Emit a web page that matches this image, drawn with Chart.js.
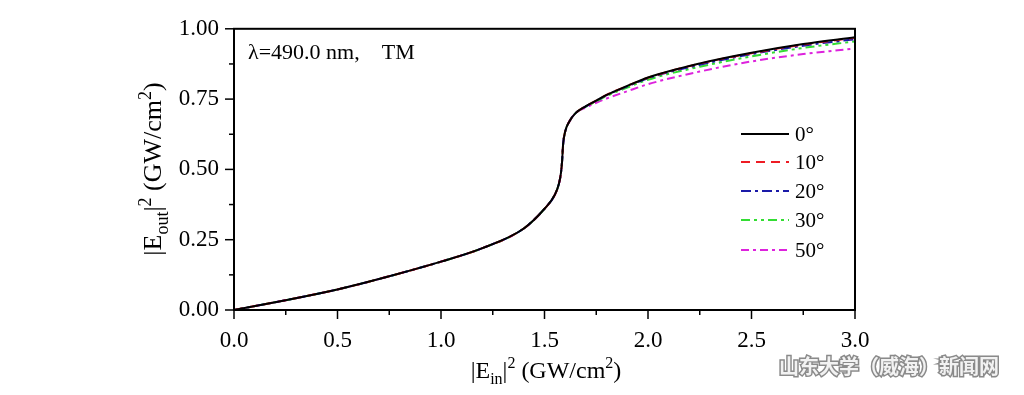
<!DOCTYPE html>
<html>
<head>
<meta charset="utf-8">
<script src="https://cdn.jsdelivr.net/npm/chart.js@4/dist/chart.umd.min.js"></script>
<style>
  html, body { margin: 0; padding: 0; background: #fff; }
  #wrap { width: 1024px; height: 395px; position: relative; }
</style>
</head>
<body>
<div id="wrap"><canvas id="chart"></canvas></div>
<script>
// input intensity |E_in|^2 (GW/cm^2)
const xs = [0, 0.25, 0.5, 0.75, 1.0, 1.2, 1.4, 1.5, 1.55, 1.57, 1.58, 1.585, 1.59, 1.6, 1.62, 1.65, 1.7, 1.75, 1.8, 1.9, 2.0, 2.25, 2.5, 2.75, 3.0];
// output intensity |E_out|^2 for each incidence angle
const y0  = [0, 0.035, 0.073, 0.12, 0.172, 0.22, 0.29, 0.36, 0.41, 0.45, 0.49, 0.53, 0.59, 0.635, 0.67, 0.70, 0.725, 0.745, 0.765, 0.797, 0.827, 0.877, 0.915, 0.946, 0.970];
const y10 = [0, 0.035, 0.073, 0.12, 0.172, 0.22, 0.29, 0.36, 0.41, 0.45, 0.49, 0.53, 0.59, 0.635, 0.67, 0.70, 0.725, 0.745, 0.765, 0.797, 0.826, 0.876, 0.913, 0.944, 0.968];
const y20 = [0, 0.035, 0.073, 0.12, 0.172, 0.22, 0.29, 0.36, 0.41, 0.45, 0.49, 0.53, 0.59, 0.635, 0.67, 0.70, 0.724, 0.744, 0.764, 0.795, 0.824, 0.872, 0.910, 0.940, 0.963];
const y30 = [0, 0.035, 0.073, 0.12, 0.172, 0.22, 0.29, 0.36, 0.41, 0.45, 0.49, 0.53, 0.59, 0.635, 0.67, 0.70, 0.723, 0.742, 0.761, 0.791, 0.819, 0.865, 0.902, 0.932, 0.955];
const y50 = [0, 0.035, 0.073, 0.12, 0.172, 0.22, 0.29, 0.36, 0.41, 0.45, 0.49, 0.53, 0.59, 0.635, 0.67, 0.70, 0.720, 0.737, 0.752, 0.778, 0.803, 0.848, 0.884, 0.910, 0.930];
const angleLabels = ['0°', '10°', '20°', '30°', '50°'];
const xTicks = [0, 0.5, 1.0, 1.5, 2.0, 2.5, 3.0];
const yTicks = [0, 0.25, 0.5, 0.75, 1.0];

const serif = '"Liberation Serif", "DejaVu Serif", serif';
const styles = [
  { color: '#000000', dash: [] },
  { color: '#ee1c24', dash: [9, 6] },
  { color: '#1a1aa8', dash: [10, 4, 3, 4] },
  { color: '#33dd33', dash: [9, 4, 3, 4, 3, 4] },
  { color: '#dd22dd', dash: [8, 4, 3, 4] }
];

function toPoints(ys) {
  return xs.map((x, i) => ({ x, y: ys[i] }));
}

const series = [y0, y10, y20, y30, y50];
const datasets = series.map((ys, i) => ({
  label: angleLabels[i],
  data: toPoints(ys),
  borderColor: styles[i].color,
  borderDash: styles[i].dash,
  borderWidth: 2,
  pointRadius: 0,
  cubicInterpolationMode: 'monotone',
  fill: false
}));

// draws a string with sub / superscript pieces
function richText(ctx, parts, x, y, size, align) {
  const big = size + 'px ' + serif;
  const small = Math.round(size * 0.68) + 'px ' + serif;
  let w = 0;
  parts.forEach(p => {
    ctx.font = (p.sub || p.sup) ? small : big;
    w += ctx.measureText(p.t).width;
  });
  let cx = align === 'center' ? x - w / 2 : x;
  ctx.textAlign = 'left';
  ctx.textBaseline = 'alphabetic';
  parts.forEach(p => {
    ctx.font = (p.sub || p.sup) ? small : big;
    let dy = 0;
    if (p.sub) dy = size * 0.25;
    if (p.sup) dy = -size * 0.4;
    ctx.fillText(p.t, cx, y + dy);
    cx += ctx.measureText(p.t).width;
  });
}

const decorPlugin = {
  id: 'decor',
  afterDraw(chart) {
    const ctx = chart.ctx;
    const a = chart.chartArea;
    const sx = chart.scales.x, sy = chart.scales.y;
    ctx.save();
    ctx.strokeStyle = '#000';
    ctx.fillStyle = '#000';
    // frame
    ctx.lineWidth = 2;
    ctx.strokeRect(a.left, a.top, a.right - a.left, a.bottom - a.top);
    // ticks (outward), major + minor
    ctx.lineWidth = 1.5;
    for (let v = 0; v <= 3.0001; v += 0.25) {
      const px = sx.getPixelForValue(v);
      const major = Math.abs(v * 2 - Math.round(v * 2)) < 1e-6;
      ctx.beginPath();
      ctx.moveTo(px, a.bottom);
      ctx.lineTo(px, a.bottom + (major ? 9 : 5));
      ctx.stroke();
    }
    for (let v = 0; v <= 1.0001; v += 0.125) {
      const py = sy.getPixelForValue(v);
      const major = Math.abs(v * 4 - Math.round(v * 4)) < 1e-6;
      ctx.beginPath();
      ctx.moveTo(a.left, py);
      ctx.lineTo(a.left - (major ? 9 : 5), py);
      ctx.stroke();
    }
    // axis titles
    richText(ctx, [{ t: '|E' }, { t: 'in', sub: true }, { t: '|' }, { t: '2', sup: true },
      { t: ' (GW/cm' }, { t: '2', sup: true }, { t: ')' }], 546, 378, 24, 'center');
    ctx.save();
    ctx.translate(161, 169);
    ctx.rotate(-Math.PI / 2);
    richText(ctx, [{ t: '|E' }, { t: 'out', sub: true }, { t: '|' }, { t: '2', sup: true },
      { t: ' (GW/cm' }, { t: '2', sup: true }, { t: ')' }], 0, 0, 26, 'center');
    ctx.restore();
    // annotation
    ctx.font = '22px ' + serif;
    ctx.textAlign = 'left';
    ctx.textBaseline = 'middle';
    ctx.fillText('λ=490.0 nm,    TM', 248, 53);
    // legend
    const rows = [134, 162, 191, 220, 250];
    datasets.forEach((d, i) => {
      ctx.strokeStyle = d.borderColor;
      ctx.lineWidth = 2;
      ctx.setLineDash(d.borderDash);
      ctx.beginPath();
      ctx.moveTo(741, rows[i]);
      ctx.lineTo(789, rows[i]);
      ctx.stroke();
      ctx.setLineDash([]);
      ctx.fillStyle = '#000';
      ctx.font = '21px ' + serif;
      ctx.textBaseline = 'middle';
      ctx.fillText(d.label, 795, rows[i] + 1);
    });
    // watermark
    ctx.font = 'bold 20px "Noto Sans CJK SC"';
    ctx.textBaseline = 'middle';
    ctx.textAlign = 'left';
    ctx.lineWidth = 3;
    ctx.strokeStyle = '#8a8a8a';
    ctx.strokeText('山东大学（威海）新闻网', 779, 366);
    ctx.fillStyle = '#f2f2f2';
    ctx.fillText('山东大学（威海）新闻网', 779, 366);
    ctx.restore();
  }
};

new Chart(document.getElementById('chart'), {
  type: 'line',
  data: { datasets },
  options: {
    responsive: true,
    maintainAspectRatio: false,
    animation: false,
    layout: { padding: { left: 0, right: 169, top: 21, bottom: 0 } },
    plugins: { legend: { display: false }, tooltip: { enabled: false } },
    scales: {
      x: {
        type: 'linear', min: 0, max: 3,
        afterFit: s => { s.height = 85; },
        afterBuildTicks: s => { s.ticks = xTicks.map(v => ({ value: v })); },
        grid: { display: false, drawTicks: false },
        border: { display: false },
        ticks: { padding: 17, color: '#000', font: { family: serif, size: 23 }, callback: v => v.toFixed(1) }
      },
      y: {
        type: 'linear', min: 0, max: 1,
        afterFit: s => { s.width = 234; },
        afterBuildTicks: s => { s.ticks = yTicks.map(v => ({ value: v })); },
        grid: { display: false, drawTicks: false },
        border: { display: false },
        ticks: { padding: 15, color: '#000', font: { family: serif, size: 23 }, callback: v => v.toFixed(2) }
      }
    }
  },
  plugins: [decorPlugin]
});
</script>
</body>
</html>
